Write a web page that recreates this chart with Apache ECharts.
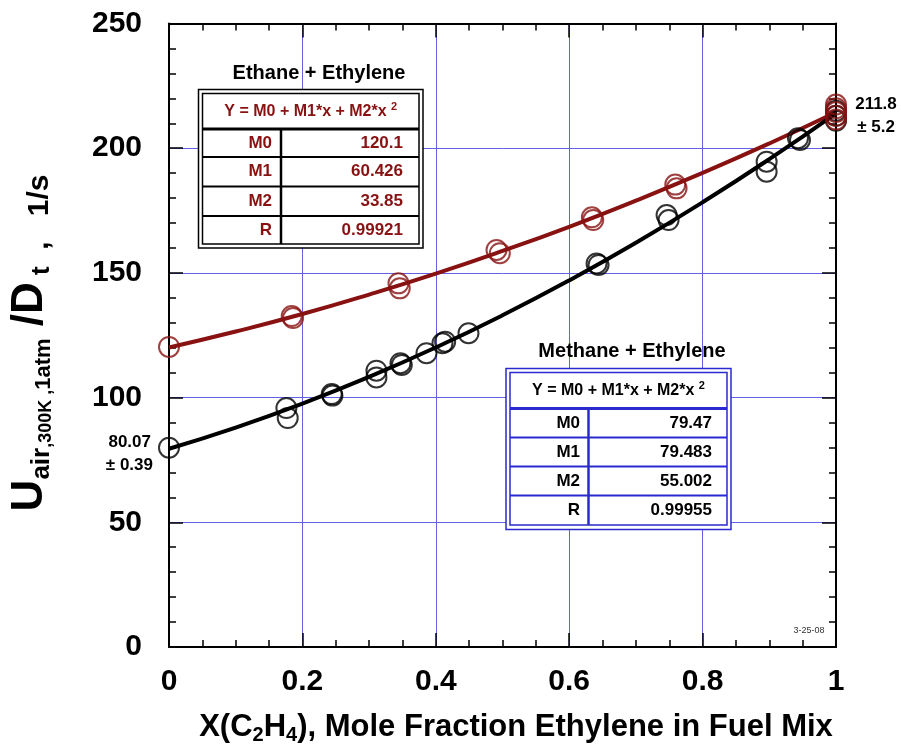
<!DOCTYPE html>
<html><head><meta charset="utf-8">
<script src="https://cdn.jsdelivr.net/npm/echarts@6/dist/echarts.min.js"></script>
<style>html,body{margin:0;padding:0;background:#fff}#c{width:901px;height:752px}</style>
</head><body><div id="c"></div>
<script>
// ---- data ----
const ethaneX = [0, 0.184, 0.186, 0.344, 0.346, 0.491, 0.496, 0.634, 0.636, 0.759, 0.761, 1, 1, 1, 1, 1];
const ethaneY = [120.3, 132.7, 131.9, 145.8, 143.8, 159.2, 157.9, 172.3, 171.2, 185.4, 183.9, 217.5, 216.0, 214.5, 213.0, 211.5];
const methaneX = [0, 0.176, 0.178, 0.244, 0.245, 0.311, 0.311, 0.347, 0.349, 0.386, 0.414, 0.410, 0.449, 0.641, 0.644, 0.746, 0.749, 0.896, 0.896, 0.943, 0.946, 1, 1, 1];
const methaneY = [79.9, 95.8, 91.8, 101.4, 100.8, 110.8, 108.1, 113.8, 113.1, 117.8, 122.4, 121.8, 125.8, 153.8, 153.2, 173.2, 171.2, 194.6, 190.6, 204.0, 203.3, 213.0, 215.0, 211.0];
const fitX = [0, 0.1, 0.2, 0.3, 0.4, 0.5, 0.6, 0.7, 0.8, 0.9, 1.0];
const ethaneFitY = [120.1, 126.5, 133.5, 141.3, 149.7, 158.8, 168.5, 179.0, 190.1, 201.9, 214.4];
const methaneFitY = [79.5, 88.0, 97.6, 108.3, 120.1, 133.0, 147.0, 162.1, 178.3, 195.6, 214.0];
const fitParamNames = ['M0', 'M1', 'M2', 'R'];
const ethaneFitValues = ['120.1', '60.426', '33.85', '0.99921'];
const methaneFitValues = ['79.47', '79.483', '55.002', '0.99955'];
const ethaneTitle = 'Ethane + Ethylene';
const methaneTitle = 'Methane + Ethylene';
const fitEquation = 'Y = M0 + M1*x + M2*x ';
const endLabel = ['211.8', '\u00b1 5.2'];
const startLabel = ['80.07', '\u00b1 0.39'];
const dateStamp = '3-25-08';

// ---- styling ----
const FONT = '"Liberation Sans", Arial, Helvetica, sans-serif';
const RED = '#881212';
const BLUE = '#2a2ad0';
const GRID = '#6262e6';

function pairs(xs, ys) { return xs.map((x, i) => [x, ys[i]]); }

function table(g, title, values, border, textColor) {
  const els = [];
  els.push({type:'text', z:100, style:{text:title, x:g.titleX, y:g.titleY, align:'center', verticalAlign:'middle', font:'bold 20px ' + FONT, fill:'#000'}});
  els.push({type:'rect', z:100, shape:{x:g.ox, y:g.oy, width:g.ow, height:g.oh}, style:{fill:'#fff', stroke:border, lineWidth:1.5}});
  els.push({type:'rect', z:101, shape:{x:g.ix, y:g.iy, width:g.iw, height:g.ih}, style:{fill:'none', stroke:border, lineWidth:1.5}});
  els.push({type:'line', z:101, shape:{x1:g.ix, y1:g.headY, x2:g.ix + g.iw, y2:g.headY}, style:{stroke:border, lineWidth:3}});
  g.rowLines.forEach(y => els.push({type:'line', z:101, shape:{x1:g.ix, y1:y, x2:g.ix + g.iw, y2:y}, style:{stroke:border, lineWidth:1.8}}));
  els.push({type:'line', z:101, shape:{x1:g.colX, y1:g.headY, x2:g.colX, y2:g.iy + g.ih}, style:{stroke:border, lineWidth:2.5}});
  els.push({type:'text', z:102, style:{text:'{a|' + fitEquation + '}{s|2}', x:g.ix + g.iw / 2, y:(g.iy + g.headY) / 2, align:'center', verticalAlign:'middle',
    rich:{a:{font:'bold 16px ' + FONT, fill:textColor, lineHeight:20}, s:{font:'bold 11px ' + FONT, fill:textColor, lineHeight:9, verticalAlign:'top'}}}});
  const bounds = [g.headY].concat(g.rowLines).concat([g.iy + g.ih]);
  fitParamNames.forEach((n, i) => {
    const cy = (bounds[i] + bounds[i + 1]) / 2;
    els.push({type:'text', z:102, style:{text:n, x:g.labelRight, y:cy, align:'right', verticalAlign:'middle', font:'bold 17px ' + FONT, fill:textColor}});
    els.push({type:'text', z:102, style:{text:values[i], x:g.valueRight, y:cy, align:'right', verticalAlign:'middle', font:'bold 17px ' + FONT, fill:textColor}});
  });
  return els;
}

const ethaneGeom = {titleX:319, titleY:73, ox:198.5, oy:89.5, ow:224.5, oh:158.5, ix:202.5, iy:93.5, iw:216.5, ih:150.5,
  headY:129, rowLines:[157, 186.5, 216], colX:281, labelRight:272, valueRight:403};
const methaneGeom = {titleX:632, titleY:351, ox:506, oy:368.5, ow:225, oh:161, ix:510, iy:372.5, iw:217, ih:152.5,
  headY:408.5, rowLines:[437.5, 466.5, 495.5], colX:588.5, labelRight:580, valueRight:712};

const graphics = [].concat(
  table(ethaneGeom, ethaneTitle, ethaneFitValues, '#000', RED),
  table(methaneGeom, methaneTitle, methaneFitValues, BLUE, '#000'),
  [
    {type:'text', z:100, style:{text:endLabel[0], x:876, y:104, align:'center', verticalAlign:'middle', font:'bold 17px ' + FONT, fill:'#000'}},
    {type:'text', z:100, style:{text:endLabel[1], x:876, y:127, align:'center', verticalAlign:'middle', font:'bold 17px ' + FONT, fill:'#000'}},
    {type:'text', z:100, style:{text:startLabel[0], x:151, y:442, align:'right', verticalAlign:'middle', font:'bold 17px ' + FONT, fill:'#000'}},
    {type:'text', z:100, style:{text:startLabel[1], x:153, y:465, align:'right', verticalAlign:'middle', font:'bold 17px ' + FONT, fill:'#000'}},
    {type:'text', z:100, style:{text:dateStamp, x:809, y:631, align:'center', verticalAlign:'middle', font:'9px ' + FONT, fill:'#333'}},
    // x-axis title
    {type:'text', z:100, style:{text:'{b|X(C}{s|2}{b|H}{s|4}{b|), Mole Fraction Ethylene in Fuel Mix}', x:516, y:727, align:'center', verticalAlign:'middle',
      rich:{b:{font:'bold 31px ' + FONT, fill:'#000', lineHeight:36}, s:{font:'bold 20px ' + FONT, fill:'#000', lineHeight:17, verticalAlign:'bottom'}}}},
    // y-axis title (rotated)
    {type:'text', z:100, x:30, y:343, rotation:Math.PI / 2, style:{
      text:'{b|U}{s|air}{t|,300K ,}{u|1atm}{b| /D}{s| t}{c|  ,   1/s}', x:0, y:0, align:'center', verticalAlign:'middle',
      rich:{b:{font:'bold 44px ' + FONT, fill:'#000', lineHeight:50},
            s:{font:'bold 26px ' + FONT, fill:'#000', lineHeight:27, verticalAlign:'bottom'},
            t:{font:'bold 18px ' + FONT, fill:'#000', lineHeight:20, verticalAlign:'bottom'},
            u:{font:'bold 22px ' + FONT, fill:'#000', lineHeight:24, verticalAlign:'bottom'},
            c:{font:'bold 30px ' + FONT, fill:'#000', lineHeight:36, verticalAlign:'bottom'}}}}
  ]
);

const tickStyle = {show:true, inside:true, length:14, lineStyle:{color:'#000', width:1.5}};
const minorStyle = (n) => ({show:true, splitNumber:n, length:7, lineStyle:{color:'#000', width:1.5}});
const axisLineStyle = {show:true, onZero:false, lineStyle:{color:'#000', width:2}};
const labelStyle = (m) => ({show:true, fontSize:30, fontWeight:'bold', color:'#000', fontFamily:FONT, margin:m});

const chart = echarts.init(document.getElementById('c'), null, {renderer:'canvas'});
chart.setOption({
  animation:false,
  backgroundColor:'#fff',
  grid:{left:169, right:65, top:23.5, bottom:105, containLabel:false, outerBoundsMode:'none'},
  xAxis:[
    {type:'value', min:0, max:1, interval:0.2, position:'bottom', axisLine:axisLineStyle, axisTick:tickStyle, minorTick:minorStyle(4),
      splitLine:{show:true, lineStyle:{color:GRID, width:1}}, axisLabel:labelStyle(20)},
    {type:'value', min:0, max:1, interval:0.2, position:'top', axisLine:axisLineStyle, axisTick:tickStyle, minorTick:minorStyle(4),
      splitLine:{show:false}, axisLabel:{show:false}}
  ],
  yAxis:[
    {type:'value', min:0, max:250, interval:50, position:'left', axisLine:axisLineStyle, axisTick:tickStyle, minorTick:minorStyle(5),
      splitLine:{show:true, lineStyle:{color:GRID, width:1}}, axisLabel:labelStyle(27)},
    {type:'value', min:0, max:250, interval:50, position:'right', axisLine:axisLineStyle, axisTick:tickStyle, minorTick:minorStyle(5),
      splitLine:{show:false}, axisLabel:{show:false}}
  ],
  series:[
    {type:'line', name:'Ethane fit', data:pairs(fitX, ethaneFitY), smooth:true, showSymbol:false, symbol:'none', lineStyle:{color:RED, width:4}, z:3},
    {type:'line', name:'Methane fit', data:pairs(fitX, methaneFitY), smooth:true, showSymbol:false, symbol:'none', lineStyle:{color:'#000', width:4}, z:3},
    {type:'scatter', name:'Methane + Ethylene', data:pairs(methaneX, methaneY), symbol:'circle', symbolSize:20, clip:false,
      itemStyle:{color:'rgba(0,0,0,0)', borderColor:'#000', borderWidth:2}, z:4},
    {type:'scatter', name:'Ethane + Ethylene', data:pairs(ethaneX, ethaneY), symbol:'circle', symbolSize:20, clip:false,
      itemStyle:{color:'rgba(0,0,0,0)', borderColor:RED, borderWidth:2}, z:5}
  ],
  graphic:graphics
});
</script>
</body></html>
